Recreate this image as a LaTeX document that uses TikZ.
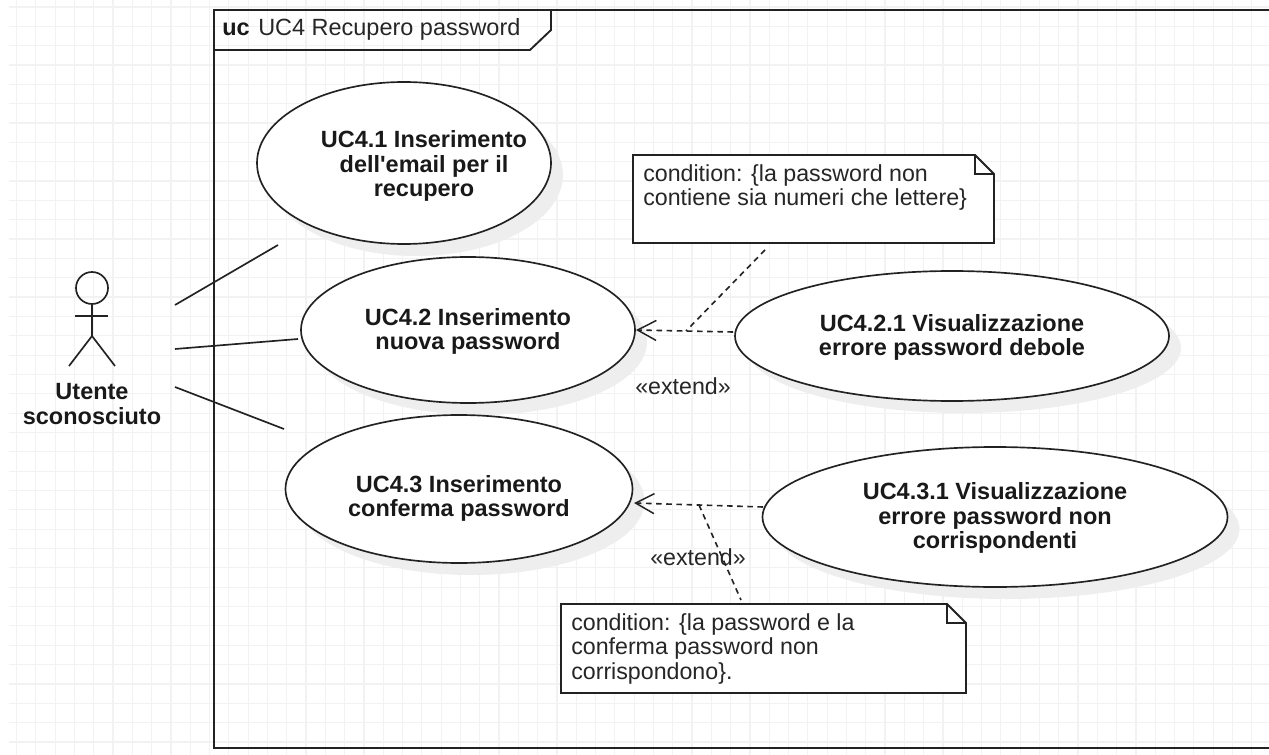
\documentclass[tikz,border=0pt]{standalone}
\usepackage{fontspec}
\setmainfont{Liberation Sans}
\newfontfamily\plainfont{Liberation Sans}
\usetikzlibrary{arrows.meta,shapes.geometric}
\definecolor{gridc}{HTML}{F2F2F2}
\definecolor{shadowc}{HTML}{EEEEEE}
\definecolor{linec}{HTML}{222222}
\tikzset{
  ucbox/.style={draw=linec,line width=1.25pt,ellipse,inner sep=0pt,fill=white},
  ucshadow/.style={fill=shadowc,draw=none,ellipse,inner sep=0pt},
  uctext/.style={font=\fontsize{17.6}{18.2}\selectfont\bfseries,align=center,text=black!90},
  assoc/.style={draw=linec,line width=1.25pt},
  dep/.style={draw=linec,line width=1.2pt,dash pattern=on 4.2pt off 3.4pt},
  dephead/.style={dep,-{Straight Barb[length=14pt,width=15pt,line width=1.1pt]}},
  note/.style={draw=linec,line width=1.4pt,fill=white},
  notetext/.style={font=\fontsize{17.4}{18.4}\selectfont,align=left,anchor=north west,text=black!85,inner sep=0pt},
  lbl/.style={font=\fontsize{17.4}{19}\selectfont,text=black!85,inner sep=0pt},
  actorlabel/.style={font=\fontsize{17.6}{18.8}\selectfont\bfseries,align=center,text=black!90,inner sep=0pt},
  limb/.style={draw=linec,line width=1.25pt}
}
\begin{document}
\begin{tikzpicture}[x=0.75pt,y=-0.75pt]
\useasboundingbox (0,0) rectangle (1269,755);
\fill[white] (0,0) rectangle (1269,755);
% grid
\foreach \i in {0,...,65} {\draw[gridc,line width=0.9pt] ({16.5+19.3*\i},0) -- ({16.5+19.3*\i},755);}
\foreach \j in {0,...,38} {\draw[gridc,line width=0.9pt] (9,{7+19.34*\j}) -- (1269,{7+19.34*\j});}
% frame
\draw[line width=1.4pt,draw=linec] (1275,10) -- (214,10) -- (214,748) -- (1275,748);
\draw[line width=1.4pt,draw=linec] (214,50) -- (530,50) -- (551,30) -- (551,10);
\node[anchor=base west,inner sep=0pt,font=\fontsize{17.6}{19}\selectfont\bfseries,text=black!90] (fk) at (222,36) {uc};
\node[anchor=base west,inner sep=0pt,font=\fontsize{17.6}{19}\selectfont,text=black!85] (ft) at (258,36) {UC4 Recupero password};
% shadows
\node[ucshadow,minimum width=220.5pt,minimum height=121.5pt] (s1) at (416,175) {};
\node[ucshadow,minimum width=250.5pt,minimum height=109.5pt] (s2) at (480,342) {};
\node[ucshadow,minimum width=325.5pt,minimum height=97.5pt] (s3) at (964,348) {};
\node[ucshadow,minimum width=260.25pt,minimum height=111pt] (s4) at (471,501) {};
\node[ucshadow,minimum width=348.75pt,minimum height=105pt] (s5) at (1007,529) {};
% use cases
\node[ucbox,minimum width=220.5pt,minimum height=121.5pt] (uc1) at (404,163) {};
\node[uctext] (t1) at (424,166) {UC4.1 Inserimento\\dell{\plainfont\bfseries\symbol{39}}email per il\\recupero};
\node[ucbox,minimum width=250.5pt,minimum height=109.5pt] (uc2) at (468,330) {};
\node[uctext] (t2) at (468,331.5) {UC4.2 Inserimento\\nuova password};
\node[ucbox,minimum width=325.5pt,minimum height=97.5pt] (uc21) at (952,336) {};
\node[uctext] (t21) at (952,337.5) {UC4.2.1 Visualizzazione\\errore password debole};
\node[ucbox,minimum width=260.25pt,minimum height=111pt] (uc3) at (459,489) {};
\node[uctext] (t3) at (459,498.5) {UC4.3 Inserimento\\conferma password};
\node[ucbox,minimum width=348.75pt,minimum height=105pt] (uc31) at (995,517) {};
\node[uctext] (t31) at (995,518) {UC4.3.1 Visualizzazione\\errore password non\\corrispondenti};
% actor
\node[circle,draw=linec,line width=1.25pt,inner sep=0pt,minimum size=24pt] (head) at (92,288) {};
\coordinate (hip) at (92,336);
\coordinate (armL) at (75,316);
\coordinate (armR) at (108,316);
\coordinate (legL) at (69,366);
\coordinate (legR) at (115,366);
\draw[limb] (head.south) -- (hip);
\draw[limb] (armL) -- (armR);
\draw[limb] (legL) -- (hip) -- (legR);
\node[actorlabel] (actor) at (92,404) {Utente\\sconosciuto};
% associations (free ends, as in the reference)
\coordinate (a1) at (175,305); \coordinate (b1) at (278,245);
\coordinate (a2) at (175,349); \coordinate (b2) at (298,339);
\coordinate (a3) at (175,387); \coordinate (b3) at (284,429);
\draw[assoc] (a1) -- (b1);
\draw[assoc] (a2) -- (b2);
\draw[assoc] (a3) -- (b3);
% notes
\coordinate (n1a) at (633,155); \coordinate (n1b) at (975,155); \coordinate (n1c) at (994,174);
\coordinate (n1d) at (994,243); \coordinate (n1e) at (633,243); \coordinate (n1f) at (975,174);
\draw[note] (n1a) -- (n1b) -- (n1c) -- (n1d) -- (n1e) -- cycle;
\draw[line width=1.4pt,draw=linec] (n1b) -- (n1f) -- (n1c);
\node[notetext] (n1) at (643,164) {condition: \{la password non\\contiene sia numeri che lettere\}};
\coordinate (n2a) at (561,604); \coordinate (n2b) at (947,604); \coordinate (n2c) at (966,623);
\coordinate (n2d) at (966,693); \coordinate (n2e) at (561,693); \coordinate (n2f) at (947,623);
\draw[note] (n2a) -- (n2b) -- (n2c) -- (n2d) -- (n2e) -- cycle;
\draw[line width=1.4pt,draw=linec] (n2b) -- (n2f) -- (n2c);
\node[notetext] (n2) at (571,613) {condition: \{la password e la\\conferma password non\\corrispondono\}.};
% dependencies
\coordinate (e1s) at (733,332); \coordinate (e1t) at (636,330); \coordinate (e1m) at (686,331); \coordinate (e1n) at (765,250);
\draw[dephead] (e1s) -- (e1t);
\draw[dep] (e1n) -- (e1m);
\coordinate (e2s) at (763,507); \coordinate (e2t) at (634,503); \coordinate (e2m) at (699,505); \coordinate (e2n) at (741,600);
\draw[dephead] (e2s) -- (e2t);
\draw[dep] (e2m) -- (e2n);
\node[lbl] (x1) at (683,386) {«extend»};
\node[lbl] (x2) at (698,557) {«extend»};
\end{tikzpicture}
\end{document}
